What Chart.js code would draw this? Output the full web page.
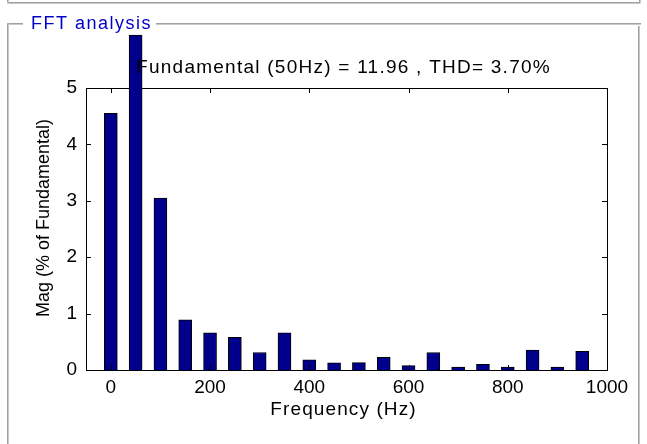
<!DOCTYPE html>
<html><head><meta charset="utf-8">
<script src="https://cdn.jsdelivr.net/npm/chart.js@4/dist/chart.umd.min.js"></script>
<style>
html,body{margin:0;padding:0;background:#fff;}
#wrap{position:relative;width:647px;height:444px;overflow:hidden;}
canvas{position:absolute;left:0;top:0;}
</style></head><body>
<div id="wrap"><canvas id="c" width="647" height="444"></canvas></div>
<script>
// ---- data ----
const freqs = [0, 50, 100, 150, 200, 250, 300, 350, 400, 450, 500, 550, 600, 650, 700, 750, 800, 850, 900, 950];
const mags  = [4.55, 5.94, 3.05, 0.89, 0.66, 0.58, 0.31, 0.66, 0.18, 0.125, 0.13, 0.225, 0.077, 0.31, 0.05, 0.10, 0.05, 0.355, 0.05, 0.33];
const xTicks = [0, 200, 400, 600, 800, 1000];
const yTicks = [0, 1, 2, 3, 4, 5];
const titleText = 'Fundamental (50Hz) = 11.96 , THD= 3.70%';
const xLabel = 'Frequency (Hz)';
const yLabel = 'Mag (% of Fundamental)';
const panelTitle = 'FFT analysis';

const FONT = "'Liberation Sans', Arial, sans-serif";

const deco = {
  id: 'deco',
  beforeDraw(chart) {
    const c = chart.ctx;
    c.save();
    c.fillStyle = '#fff';
    c.fillRect(0, 0, chart.width, chart.height);
    const line = (x1, y1, x2, y2, col) => { c.strokeStyle = col; c.lineWidth = 1; c.beginPath(); c.moveTo(x1, y1); c.lineTo(x2, y2); c.stroke(); };
    const etched = (x1, y1, x2, y2) => {
      line(x1, y1, x2, y2, '#a0a0a0');
      if (y1 === y2) line(x1, y1 + 1, x2, y2 + 1, '#c8c8c8'); else line(x1 + 1, y1, x2 + 1, y2, '#c8c8c8');
    };
    // previous panel bottom
    etched(7.5, 2.5, 640.5, 2.5);
    etched(7.5, 0, 7.5, 2.5);
    etched(639.5, 0, 639.5, 2.5);
    // FFT analysis panel
    etched(7.5, 23.5, 23, 23.5);
    etched(156, 23.5, 641, 23.5);
    etched(7.5, 23.5, 7.5, 444);
    etched(638.5, 26, 638.5, 444);
    // panel title
    c.font = '18px ' + FONT;
    c.letterSpacing = '1.5px';
    c.fillStyle = '#0000c8';
    c.textAlign = 'left';
    c.textBaseline = 'alphabetic';
    c.fillText(panelTitle, 31, 29);
    c.restore();
  },
  beforeDatasetsDraw(chart) {
    const c = chart.ctx, a = chart.chartArea;
    c.save();
    c.strokeStyle = '#000';
    c.lineWidth = 1;
    c.strokeRect(Math.round(a.left) + 0.5, Math.round(a.top) + 0.5, Math.round(a.right - a.left), Math.round(a.bottom - a.top));
    c.restore();
  },
  afterDatasetsDraw(chart) {
    const c = chart.ctx, a = chart.chartArea, sx = chart.scales.x, sy = chart.scales.y;
    const L = 5;
    c.save();
    c.strokeStyle = '#000';
    c.lineWidth = 1;
    c.beginPath();
    sx.ticks.forEach(t => {
      const p = Math.round(sx.getPixelForValue(t.value)) + 0.5;
      c.moveTo(p, a.bottom); c.lineTo(p, a.bottom - L);
      c.moveTo(p, a.top); c.lineTo(p, a.top + L);
    });
    sy.ticks.forEach(t => {
      const p = Math.round(sy.getPixelForValue(t.value)) + 0.5;
      c.moveTo(a.left, p); c.lineTo(a.left + L, p);
      c.moveTo(a.right, p); c.lineTo(a.right - L, p);
    });
    c.stroke();
    c.restore();
  },
  afterDraw(chart) {
    const c = chart.ctx, a = chart.chartArea;
    const cx = (a.left + a.right) / 2;
    c.save();
    c.fillStyle = '#000';
    c.textBaseline = 'alphabetic';
    c.textAlign = 'center';
    c.font = '19px ' + FONT;
    c.letterSpacing = '1.25px';
    c.fillText(titleText, cx - 3, a.top - 15);
    c.letterSpacing = '1.1px';
    c.fillText(xLabel, cx - 3, a.bottom + 45);
    c.letterSpacing = '0px';
    c.font = '18px ' + FONT;
    c.translate(a.left - 37, (a.top + a.bottom) / 2 - 11);
    c.rotate(-Math.PI / 2);
    c.fillText(yLabel, 0, 0);
    c.restore();
  }
};

new Chart(document.getElementById('c').getContext('2d'), {
  type: 'bar',
  data: {
    datasets: [{
      data: freqs.map((f, i) => ({ x: f, y: mags[i] })),
      backgroundColor: '#00008c',
      borderColor: '#000000',
      borderWidth: 1,
      barThickness: 13,
      clip: false
    }]
  },
  options: {
    responsive: false,
    animation: false,
    devicePixelRatio: 1,
    layout: { padding: { top: 88, right: 40, left: 0, bottom: 0 } },
    plugins: { legend: { display: false }, tooltip: { enabled: false }, title: { display: false } },
    scales: {
      x: {
        type: 'linear', min: -50, max: 1000, offset: false,
        afterBuildTicks: s => { s.ticks = xTicks.map(v => ({ value: v })); },
        grid: { display: false, drawTicks: false, offset: false },
        border: { display: false },
        ticks: { font: { family: FONT, size: 19 }, color: '#000', padding: 6, maxRotation: 0, autoSkip: false, callback: v => String(v) },
        afterFit: s => { s.height = 74; }
      },
      y: {
        type: 'linear', min: 0, max: 5,
        afterBuildTicks: s => { s.ticks = yTicks.map(v => ({ value: v })); },
        grid: { display: false, drawTicks: false },
        border: { display: false },
        ticks: { font: { family: FONT, size: 19 }, color: '#000', padding: 9, callback: v => String(v) },
        afterFit: s => { s.width = 86; }
      }
    }
  },
  plugins: [deco]
});
</script>
</body></html>
